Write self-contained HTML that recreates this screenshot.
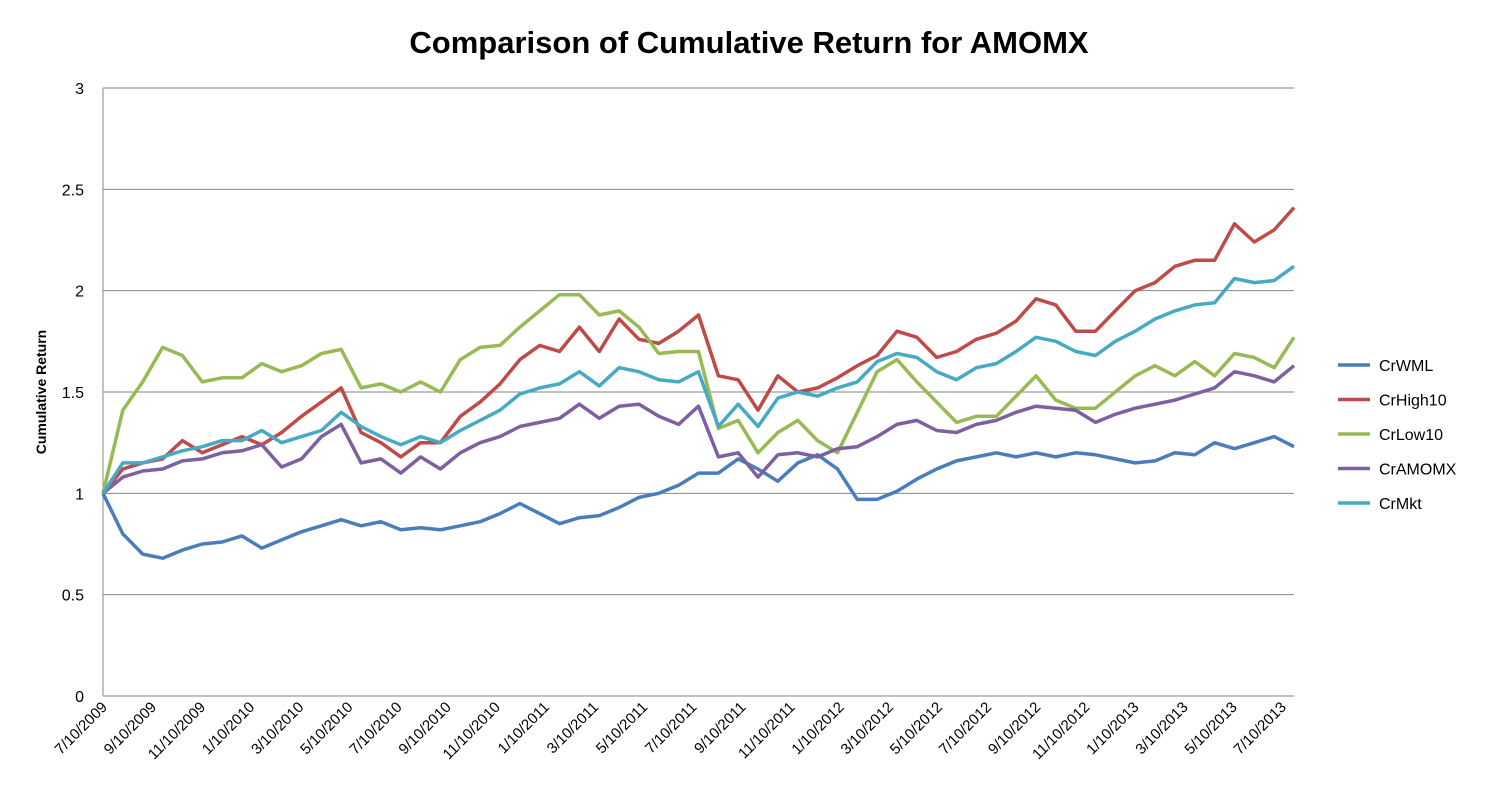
<!DOCTYPE html>
<html><head><meta charset="utf-8"><style>
body{margin:0;background:#fff;}
svg{display:block;font-family:"Liberation Sans",Arial,sans-serif;}
</style></head><body>
<svg id="chart" width="1500" height="812" viewBox="0 0 1500 812" xmlns="http://www.w3.org/2000/svg">
<rect width="1500" height="812" fill="#fff"/>
<text x="749" y="53" text-anchor="middle" font-size="31" font-weight="bold" fill="#000">Comparison of Cumulative Return for AMOMX</text>
<text transform="translate(46,392) rotate(-90)" text-anchor="middle" font-size="14" font-weight="bold" fill="#000">Cumulative Return</text>
<g id="grid"></g><g id="axes"></g><g id="series"></g><g id="legend"></g>
</svg>
<script>
const yTicks=[0,0.5,1,1.5,2,2.5,3];
const xLabels=["7/10/2009","9/10/2009","11/10/2009","1/10/2010","3/10/2010","5/10/2010","7/10/2010","9/10/2010","11/10/2010","1/10/2011","3/10/2011","5/10/2011","7/10/2011","9/10/2011","11/10/2011","1/10/2012","3/10/2012","5/10/2012","7/10/2012","9/10/2012","11/10/2012","1/10/2013","3/10/2013","5/10/2013","7/10/2013"];
const seriesNames=["CrWML","CrHigh10","CrLow10","CrAMOMX","CrMkt"];
const seriesColors=["#4a7ebb","#be4b48","#98b954","#7d60a0","#46aac5"];
const crWML=[1.0,0.8,0.7,0.68,0.72,0.75,0.76,0.79,0.73,0.77,0.81,0.84,0.87,0.84,0.86,0.82,0.83,0.82,0.84,0.86,0.9,0.95,0.9,0.85,0.88,0.89,0.93,0.98,1.0,1.04,1.1,1.1,1.17,1.12,1.06,1.15,1.19,1.12,0.97,0.97,1.01,1.07,1.12,1.16,1.18,1.2,1.18,1.2,1.18,1.2,1.19,1.17,1.15,1.16,1.2,1.19,1.25,1.22,1.25,1.28,1.23];
const crHigh10=[1.0,1.12,1.15,1.17,1.26,1.2,1.24,1.28,1.24,1.3,1.38,1.45,1.52,1.3,1.25,1.18,1.25,1.25,1.38,1.45,1.54,1.66,1.73,1.7,1.82,1.7,1.86,1.76,1.74,1.8,1.88,1.58,1.56,1.41,1.58,1.5,1.52,1.57,1.63,1.68,1.8,1.77,1.67,1.7,1.76,1.79,1.85,1.96,1.93,1.8,1.8,1.9,2.0,2.04,2.12,2.15,2.15,2.33,2.24,2.3,2.41];
const crLow10=[1.0,1.41,1.55,1.72,1.68,1.55,1.57,1.57,1.64,1.6,1.63,1.69,1.71,1.52,1.54,1.5,1.55,1.5,1.66,1.72,1.73,1.82,1.9,1.98,1.98,1.88,1.9,1.82,1.69,1.7,1.7,1.32,1.36,1.2,1.3,1.36,1.26,1.2,1.4,1.6,1.66,1.55,1.45,1.35,1.38,1.38,1.48,1.58,1.46,1.42,1.42,1.5,1.58,1.63,1.58,1.65,1.58,1.69,1.67,1.62,1.77];
const crAMOMX=[1.0,1.08,1.11,1.12,1.16,1.17,1.2,1.21,1.24,1.13,1.17,1.28,1.34,1.15,1.17,1.1,1.18,1.12,1.2,1.25,1.28,1.33,1.35,1.37,1.44,1.37,1.43,1.44,1.38,1.34,1.43,1.18,1.2,1.08,1.19,1.2,1.18,1.22,1.23,1.28,1.34,1.36,1.31,1.3,1.34,1.36,1.4,1.43,1.42,1.41,1.35,1.39,1.42,1.44,1.46,1.49,1.52,1.6,1.58,1.55,1.63];
const crMkt=[1.0,1.15,1.15,1.18,1.21,1.23,1.26,1.26,1.31,1.25,1.28,1.31,1.4,1.33,1.28,1.24,1.28,1.25,1.31,1.36,1.41,1.49,1.52,1.54,1.6,1.53,1.62,1.6,1.56,1.55,1.6,1.33,1.44,1.33,1.47,1.5,1.48,1.52,1.55,1.65,1.69,1.67,1.6,1.56,1.62,1.64,1.7,1.77,1.75,1.7,1.68,1.75,1.8,1.86,1.9,1.93,1.94,2.06,2.04,2.05,2.12];
const seriesData=[crWML,crHigh10,crLow10,crAMOMX,crMkt];

const NS="http://www.w3.org/2000/svg";
const X0=103,X1=1294,Y0=696,Y1=88,YMAX=3;
const labelStep=(1282-X0)/(xLabels.length-1);
function yPos(v){return Y0-(v/YMAX)*(Y0-Y1);}
function xPos(i,n){return X0+i*(X1-X0)/(n-1);}
function mk(tag,attrs,parent){const e=document.createElementNS(NS,tag);for(const k in attrs)e.setAttribute(k,attrs[k]);parent.appendChild(e);return e;}
const grid=document.getElementById('grid'),axes=document.getElementById('axes'),ser=document.getElementById('series'),leg=document.getElementById('legend');
yTicks.forEach(t=>{
  const y=yPos(t);
  if(t>0){const l=mk('line',{x1:X0,x2:X1,y1:y,y2:y,stroke:'#868686','stroke-width':1},grid);
  
  }
  const tx=mk('text',{x:84,y:y+6,'text-anchor':'end','font-size':16,fill:'#000'},axes);
  tx.textContent=t;
  
  
});
const ya=mk('line',{x1:X0,x2:X0,y1:Y1,y2:Y0,stroke:'#868686','stroke-width':1},axes);


const xa=mk('line',{x1:X0,x2:X1,y1:Y0,y2:Y0,stroke:'#868686','stroke-width':1},axes);


xLabels.forEach((lab,i)=>{
  const x=X0+i*labelStep;
  const tx=mk('text',{x:0,y:0,'text-anchor':'end','font-size':15,fill:'#000',transform:`translate(${x+5},${Y0+12}) rotate(-45)`},axes);
  tx.textContent=lab;
  
  
});
seriesData.forEach((arr,s)=>{
  const d=arr.map((v,i)=>(i?'L':'M')+xPos(i,arr.length).toFixed(1)+','+yPos(v).toFixed(1)).join(' ');
  const p=mk('path',{d:d,fill:'none',stroke:seriesColors[s],'stroke-width':3.5,'stroke-linejoin':'round'},ser);
  
  
  const ly=365+s*34.5;
  const g=mk('g',{},leg);
  
  
  mk('line',{x1:1338,x2:1370,y1:ly,y2:ly,stroke:seriesColors[s],'stroke-width':3.5},g);
  const t=mk('text',{x:1379,y:ly+6,'font-size':16,fill:'#000'},g);
  t.textContent=seriesNames[s];
});
</script>
</body></html>
